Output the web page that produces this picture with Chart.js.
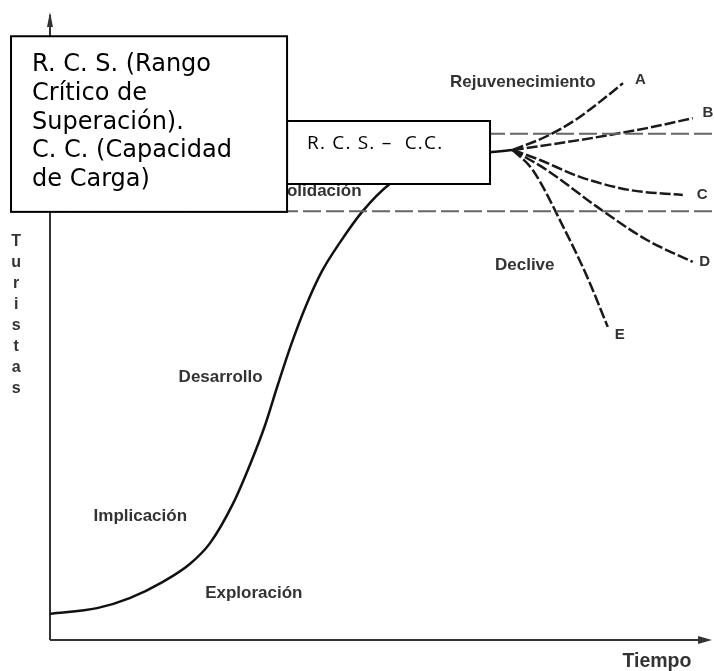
<!DOCTYPE html>
<html>
<head>
<meta charset="utf-8">
<script src="https://cdn.jsdelivr.net/npm/chart.js@4.4.1/dist/chart.umd.min.js"></script>
<style>
  body { margin: 0; background: #fff; }
  #wrap { width: 714px; height: 671px; position: relative; }
</style>
</head>
<body>
<div id="wrap"><canvas id="myChart"></canvas></div>
<script>
// tiempo (x) / turistas (y), escala 0-100
let main_x = [0, 7.1, 12, 17, 21.1, 24.1, 27.6, 30.1, 32.4, 34.3, 36.4, 38.6, 40.9, 43.6, 47, 51.2, 55.7, 61.7, 69.7]
let main_y = [4.2, 5.1, 6.7, 9.3, 12.2, 15.5, 21.9, 28, 34.4, 40.8, 47.5, 53.6, 58.9, 63.5, 68.5, 73, 75.7, 77.4, 78.4]

let a_x = [69.7, 74.8, 79.1, 82.8, 86.3]
let a_y = [78.4, 80.6, 83.2, 86.1, 89.1]
let b_x = [69.7, 79.8, 89.9, 96.8]
let b_y = [78.4, 80, 81.9, 83.5]
let c_x = [69.7, 73.8, 79.8, 87.3, 95.3]
let c_y = [78.4, 76.8, 74.1, 72, 71.2]
let d_x = [69.7, 74.8, 82.4, 89.9, 96.8]
let d_y = [78.4, 75.2, 69.3, 64, 60.5]
let e_x = [69.7, 72.7, 77.3, 80.9, 84]
let e_y = [78.4, 75.2, 66.1, 58.1, 50.1]

let rcs_level = 81   // R.C.S.
let cc_level = 68.6  // C.C.

let phase_names = ['Exploración', 'Implicación', 'Desarrollo', 'Consolidación', 'Rejuvenecimiento', 'Declive']
let branch_names = ['A', 'B', 'C', 'D', 'E']

function pts(xs, ys){
    return xs.map((x, i) => ({x: x, y: ys[i]}))
}

function branch(xs, ys){
    return {
        data: pts(xs, ys),
        showLine: true,
        borderColor: '#1a1a1a',
        borderWidth: 2.5,
        borderDash: [11, 3],
        pointRadius: 0,
        cubicInterpolationMode: 'monotone',
        clip: false,
    }
}

function level(y){
    return {
        data: [{x: 0, y: y}, {x: 100, y: y}],
        showLine: true,
        borderColor: '#666',
        borderWidth: 2,
        borderDash: [18, 5],
        pointRadius: 0,
        clip: false,
    }
}

// posiciones de los textos (en unidades de los ejes)
const phase_pos = [[30.7, 7.5], [13.6, 19.8], [25.7, 42.1], [38.1, 71.8], [71.2, 89.3], [71.5, 60]]
const branch_pos = [[88.9, 89.6], [99.1, 84.3], [98.2, 71.2], [98.6, 60.5], [85.8, 48.8]]

const drawing = {
    id: 'drawing',
    beforeDatasetsDraw(chart){
        const ctx = chart.ctx
        const sx = chart.scales.x, sy = chart.scales.y
        const x0 = sx.getPixelForValue(0), y0 = sy.getPixelForValue(0)
        const yTop = sy.getPixelForValue(100), xEnd = sx.getPixelForValue(99.7)
        ctx.save()
        ctx.strokeStyle = '#333'
        ctx.fillStyle = '#333'
        ctx.lineWidth = 2
        ctx.beginPath()
        ctx.moveTo(x0, y0)
        ctx.lineTo(x0, yTop)
        ctx.moveTo(x0, y0)
        ctx.lineTo(xEnd - 8, y0)
        ctx.stroke()
        // flechas
        ctx.beginPath()
        ctx.moveTo(x0, yTop - 3)
        ctx.lineTo(x0 - 3, yTop + 12)
        ctx.lineTo(x0 + 3, yTop + 12)
        ctx.fill()
        ctx.beginPath()
        ctx.moveTo(xEnd, y0)
        ctx.lineTo(xEnd - 14, y0 - 4)
        ctx.lineTo(xEnd - 14, y0 + 4)
        ctx.fill()
        ctx.restore()
    },
    afterDatasetsDraw(chart){
        const ctx = chart.ctx
        const sx = chart.scales.x, sy = chart.scales.y
        const px = v => sx.getPixelForValue(v), py = v => sy.getPixelForValue(v)
        ctx.save()
        ctx.textAlign = 'center'
        ctx.textBaseline = 'middle'
        ctx.fillStyle = '#333'
        ctx.font = 'bold 17px "Liberation Sans", Arial'
        phase_names.forEach((t, i) => ctx.fillText(t, px(phase_pos[i][0]), py(phase_pos[i][1])))
        ctx.font = 'bold 15px "Liberation Sans", Arial'
        branch_names.forEach((t, i) => ctx.fillText(t, px(branch_pos[i][0]), py(branch_pos[i][1])))
        ctx.font = 'bold 19.5px "Liberation Sans", Arial'
        ctx.fillText('Tiempo', px(91.4), py(-3.5))
        ctx.font = 'bold 16px "Liberation Sans", Arial'
        'Turistas'.split('').forEach((ch, i) => ctx.fillText(ch, px(-5.1), py(63.8) + i * 21))

        // cuadros de texto
        ctx.lineWidth = 2
        ctx.strokeStyle = '#000'
        const box = (x1, y1, x2, y2) => {
            ctx.fillStyle = '#fff'
            ctx.fillRect(px(x1), py(y1), px(x2) - px(x1), py(y2) - py(y1))
            ctx.strokeRect(px(x1), py(y1), px(x2) - px(x1), py(y2) - py(y1))
        }
        box(35.7, 83.04, 66.27, 72.96)
        box(-5.87, 96.6, 35.7, 68.5)
        ctx.fillStyle = '#000'
        ctx.textAlign = 'left'
        ctx.font = '19px "Open Sans", sans-serif'
        ctx.letterSpacing = '1.2px'
        ctx.fillText('R. C. S. –  C.C.', px(38.7), py(79.36))
        ctx.letterSpacing = '0px'
        ctx.font = '24px "DejaVu Sans", Verdana, sans-serif'
        const lines = ['R. C. S. (Rango', 'Crítico de', 'Superación).', 'C. C. (Capacidad', 'de Carga)']
        lines.forEach((l, i) => ctx.fillText(l, px(-2.7), py(92) + i * 28.75))
        ctx.restore()
    }
}

const chart_1 = document.getElementById('myChart')
new Chart(chart_1, {
    type: 'scatter',
    data: {
        datasets: [
            level(rcs_level),
            level(cc_level),
            {
                data: pts(main_x, main_y),
                showLine: true,
                borderColor: '#111',
                borderWidth: 2.5,
                pointRadius: 0,
                cubicInterpolationMode: 'monotone',
                clip: false,
            },
            branch(a_x, a_y),
            branch(b_x, b_y),
            branch(c_x, c_y),
            branch(d_x, d_y),
            branch(e_x, e_y),
        ]
    },
    options: {
        responsive: true,
        maintainAspectRatio: false,
        animation: false,
        layout: {
            padding: {left: 50, right: 0, top: 15, bottom: 31}
        },
        scales: {
            x: {
                type: 'linear',
                display: false,
                min: 0,
                max: 100,
            },
            y: {
                type: 'linear',
                display: false,
                min: 0,
                max: 100,
            },
        },
        plugins: {
            legend: {display: false},
            tooltip: {enabled: false},
        }
    },
    plugins: [drawing]
});
</script>
</body>
</html>
